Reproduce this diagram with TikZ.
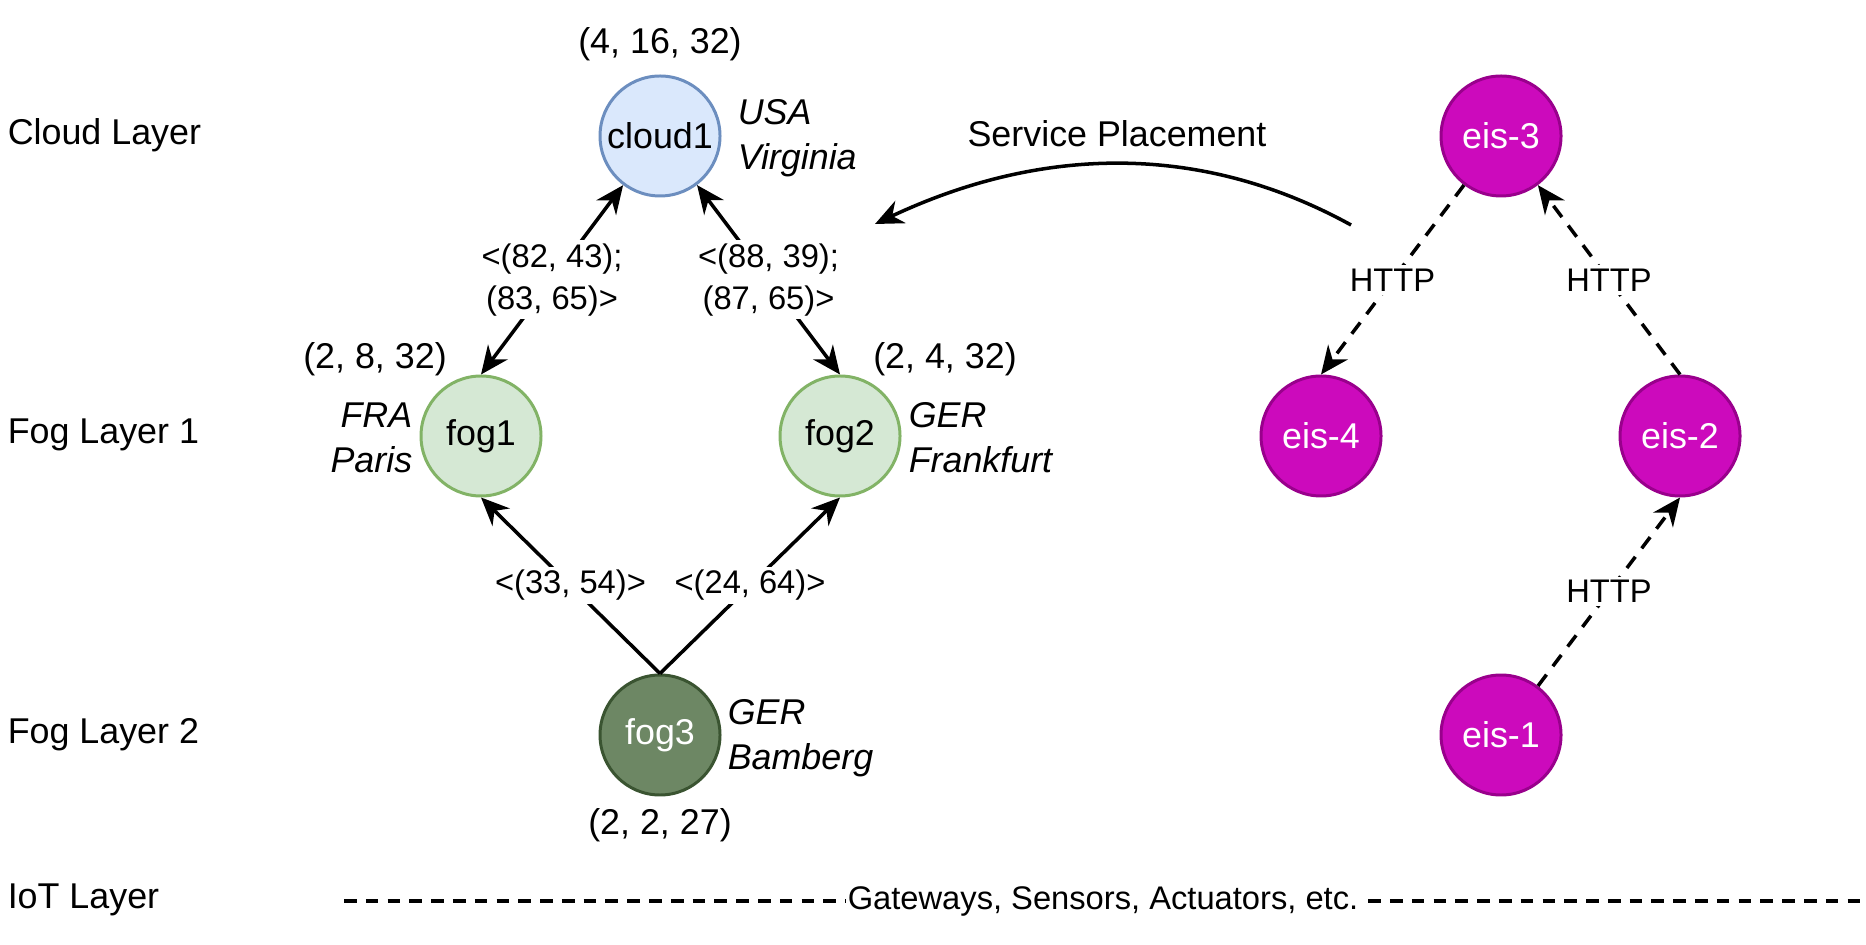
\documentclass[tikz,border=0pt]{standalone}
\usepackage{fontspec}
\setmainfont{Liberation Sans}
\usetikzlibrary{arrows.meta}
\definecolor{cloudfill}{HTML}{DAE8FC}
\definecolor{clouddraw}{HTML}{6C8EBF}
\definecolor{fogfill}{HTML}{D5E8D4}
\definecolor{fogdraw}{HTML}{82B366}
\definecolor{darkfill}{HTML}{6D8764}
\definecolor{darkdraw}{HTML}{3A5431}
\definecolor{eisfill}{RGB}{204,10,188}
\definecolor{eisdraw}{RGB}{153,0,140}
\tikzset{
  host/.style={circle,minimum size=1.2cm,inner sep=0pt,line width=0.85pt,
    font=\fontsize{10.2}{12}\selectfont},
  note/.style={inner sep=0pt,font=\fontsize{10.2}{12.8}\selectfont\itshape},
  tuple/.style={font=\fontsize{10.2}{12}\selectfont},
  layer/.style={anchor=west,inner sep=0pt,font=\fontsize{10.2}{12}\selectfont},
  lbl/.style={fill=white,align=center,inner sep=1pt,font=\fontsize{9.3}{11.9}\selectfont},
  http/.style={->,dash pattern=on 4pt off 3pt},
}
\begin{document}
\begin{tikzpicture}[>={Stealth[length=8pt,width=7pt]},line width=1pt]
    \useasboundingbox (0,0) rectangle (18.66,-9.45);
    % layers
    \node[layer] (lcloud) at (0.06,-1.35) {Cloud Layer};
    \node[layer] (lfog1) at (0.06,-4.35) {Fog Layer 1};
    \node[layer] (lfog2) at (0.06,-7.35) {Fog Layer 2};
    \node[layer] (liot) at (0.06,-9.00) {IoT Layer};
    % hosts
    \node[host,draw=clouddraw,fill=cloudfill] (cloud1) at (6.60,-1.36) {cloud1};
    \node[host,draw=fogdraw,fill=fogfill] (fog1) at (4.81,-4.36) {fog1};
    \node[host,draw=fogdraw,fill=fogfill] (fog2) at (8.40,-4.36) {fog2};
    \node[host,draw=darkdraw,fill=darkfill,text=white] (fog3) at (6.60,-7.35) {fog3};
    \node[tuple] (rcloud1) at (6.60,-0.44) {(4, 16, 32)};
    \node[tuple] (rfog1) at (3.75,-3.59) {(2, 8, 32)};
    \node[tuple] (rfog2) at (9.45,-3.59) {(2, 4, 32)};
    \node[tuple] (rfog3) at (6.60,-8.25) {(2, 2, 27)};
    \node[note,anchor=west,align=left] (loccloud1) at (7.36,-1.38) {USA\\Virginia};
    \node[note,anchor=east,align=right] (locfog1) at (4.14,-4.38) {FRA\\Paris};
    \node[note,anchor=west,align=left] (locfog2) at (9.07,-4.38) {GER\\Frankfurt};
    \node[note,anchor=west,align=left] (locfog3) at (7.26,-7.38) {GER\\Bamberg};
    \draw[<->] (fog1.north) -- node[lbl] {<(82, 43);\\(83, 65)>} (cloud1);
    \draw[<->] (cloud1) -- node[lbl] {<(88, 39);\\(87, 65)>} (fog2.north);
    \draw[->] (fog3.north) -- node[lbl] {<(33, 54)>} (fog1.south);
    \draw[->] (fog3.north) -- node[lbl] {<(24, 64)>} (fog2.south);
    % services
    \node[host,draw=eisdraw,fill=eisfill,text=white] (eis3) at (15.01,-1.36) {eis-3};
    \node[host,draw=eisdraw,fill=eisfill,text=white] (eis4) at (13.21,-4.36) {eis-4};
    \node[host,draw=eisdraw,fill=eisfill,text=white] (eis2) at (16.80,-4.36) {eis-2};
    \node[host,draw=eisdraw,fill=eisfill,text=white] (eis1) at (15.01,-7.35) {eis-1};
    \draw[http] (eis3) -- node[lbl] {HTTP} (eis4.north);
    \draw[http] (eis2.north) -- node[lbl] {HTTP} (eis3);
    \draw[http] (eis1) -- node[lbl] {HTTP} (eis2.south);
    % placement
    \coordinate (spfrom) at (13.51,-2.25);
    \coordinate (spto) at (8.75,-2.24);
    \draw[->] (spfrom) .. controls (12.04,-1.44) and (10.45,-1.44) .. (spto);
    \node[tuple] (splabel) at (11.17,-1.34) {Service Placement};
    % iot
    \coordinate (iotL) at (3.44,-9.01);
    \coordinate (iotR) at (18.62,-9.01);
    \draw[dash pattern=on 3.6pt off 2.6pt] (iotL) -- node[lbl,inner sep=0.5pt] {Gateways, Sensors, Actuators, etc.} (iotR);
  \end{tikzpicture}
\end{document}
